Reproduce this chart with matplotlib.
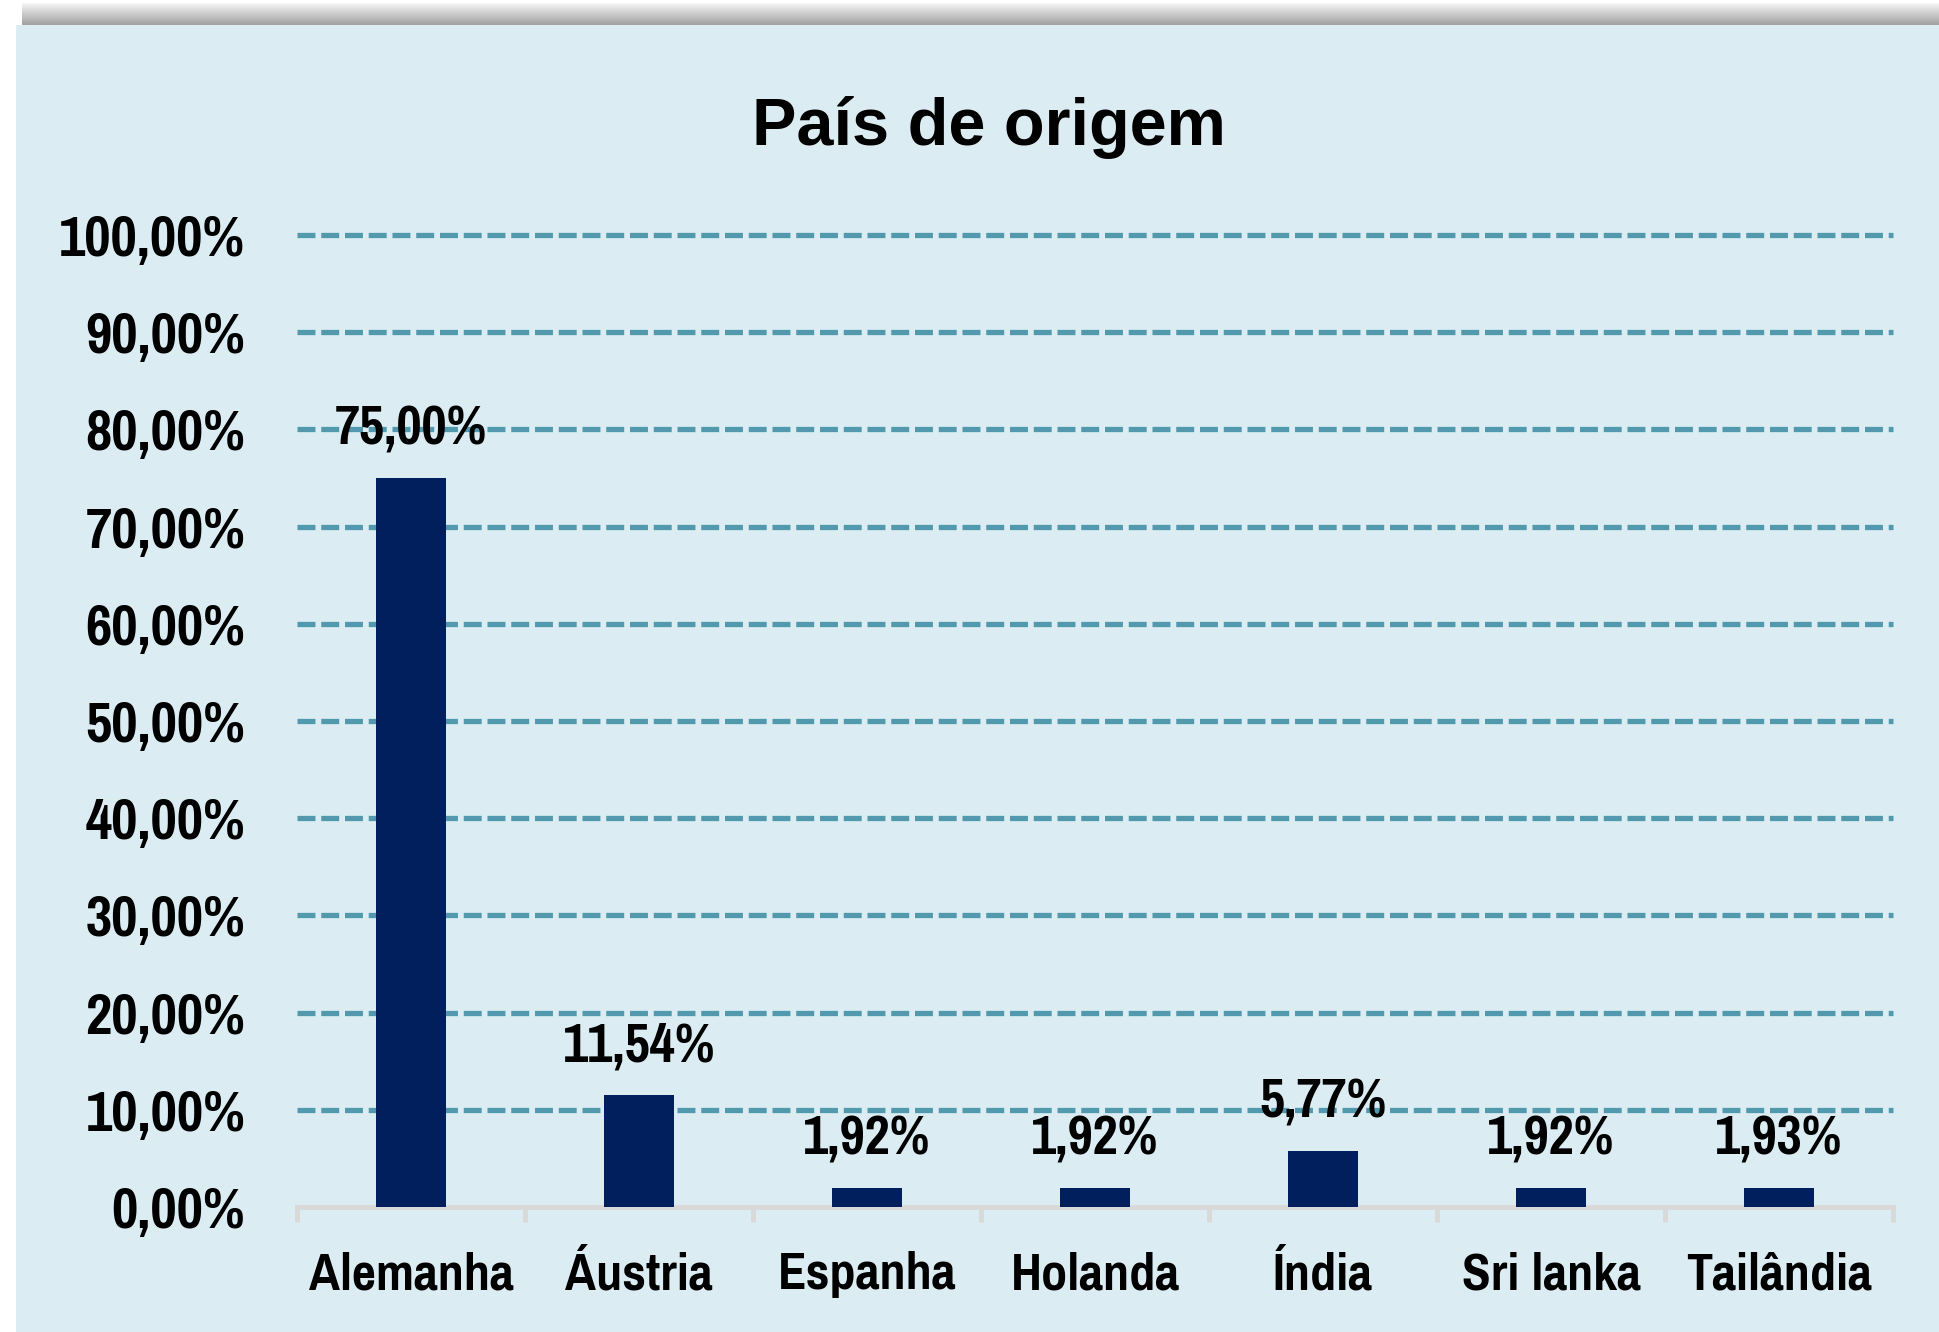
import numpy as np
import matplotlib
matplotlib.use('Agg')
from matplotlib import pyplot as plt

# dados do gráfico
paises = ['Alemanha', 'Áustria', 'Espanha', 'Holanda', 'Índia', 'Sri lanka', 'Tailândia']
valores = [75.00, 11.54, 1.92, 1.92, 5.77, 1.92, 1.93]
rotulos = ['75,00%', '11,54%', '1,92%', '1,92%', '5,77%', '1,92%', '1,93%']
ticks_y = [0, 10, 20, 30, 40, 50, 60, 70, 80, 90, 100]
ticks_y_txt = ['%d,00%%' % t for t in ticks_y]

# fonte estreita parecida com Arial Narrow (usa a primeira que existir)
narrow = ['Liberation Sans Narrow', 'Arial Narrow', 'Pragati Narrow',
          'Archivo Narrow', 'Roboto Condensed', 'DejaVu Sans']
fundo = '#DBEDF3'

W, H = 1939, 1332
fig = plt.figure(figsize=(W / 100, H / 100), dpi=100)
fig.patch.set_facecolor('white')

# fundo azul claro
bg = fig.add_axes([16 / W, 0, 1 - 16 / W, 1 - 25 / H], zorder=-5)
bg.set_facecolor(fundo)
bg.set_xticks([])
bg.set_yticks([])
for s in bg.spines.values():
    s.set_visible(False)

# sombra cinza no topo
sombra = fig.add_axes([22 / W, 1 - 25 / H, 1 - 22 / W, 22 / H], zorder=-5)
grad = np.linspace(0.96, 0.63, 50).reshape(-1, 1)
sombra.imshow(np.repeat(grad, 10, axis=1), cmap='gray', vmin=0, vmax=1,
              aspect='auto', extent=[0, 1, 0, 1])
sombra.axis('off')

ax = fig.add_axes([297 / W, 1 - 1207 / H, (1893 - 297) / W, (1207 - 235) / H])
ax.set_facecolor('none')

x = np.arange(len(paises))
barras = ax.bar(x, valores, width=0.31, color='#001F5C', zorder=3)

for xi, v, r in zip(x, valores, rotulos):
    ax.annotate(r, (xi, v), xytext=(0, 35), textcoords='offset points',
                ha='center', va='center', fontsize=43, fontweight='bold',
                family=narrow, color='black', zorder=4)

ax.set_xlim(-0.5, len(paises) - 0.5)
ax.set_ylim(0, 100)
ax.set_yticks(ticks_y)
ax.set_yticklabels(ticks_y_txt, fontsize=45, fontweight='bold', family=narrow)
ax.tick_params(axis='y', length=0, pad=37)

for t in ticks_y[1:]:
    ax.axhline(t, color='#5399AE', linewidth=3.8, dashes=(3.4, 1.1), zorder=1,
               clip_on=False)

ax.set_xticks(x)
ax.set_xticklabels(paises, fontsize=41, fontweight='bold', family=narrow)
ax.tick_params(axis='x', length=0, pad=32)
# marcas entre as categorias
ax.set_xticks(np.arange(len(paises) + 1) - 0.5, minor=True)
ax.tick_params(axis='x', which='minor', length=11, width=3.6, color='#D9D9D9',
               direction='out')

for s in ['top', 'right', 'left']:
    ax.spines[s].set_visible(False)
ax.spines['bottom'].set_color('#D9D9D9')
ax.spines['bottom'].set_linewidth(3.6)
ax.spines['bottom'].set_zorder(2)

fig.text(989 / W, 1 - 145 / H, 'País de origem', ha='center', va='baseline',
         fontsize=48, fontweight='bold',
         family=['Liberation Sans', 'DejaVu Sans'], color='black')

fig.savefig('out.png', dpi=100, facecolor=fig.get_facecolor())
